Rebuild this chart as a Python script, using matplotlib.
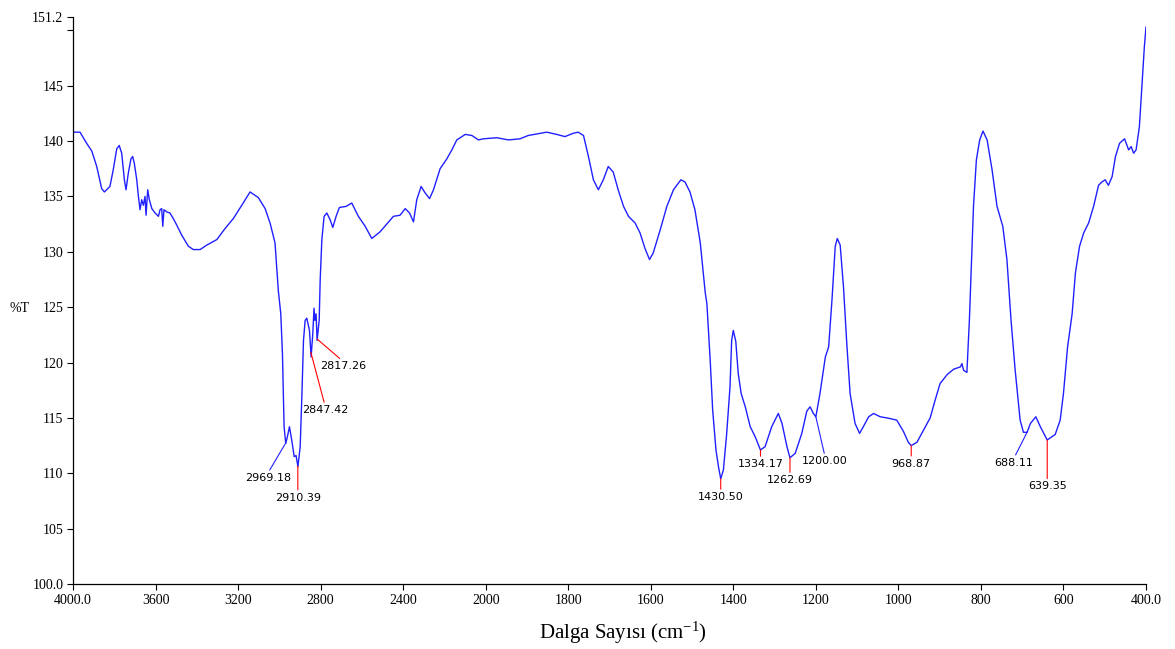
import numpy as np
import matplotlib
matplotlib.use("Agg")
import matplotlib.pyplot as plt

plt.rcParams['mathtext.fontset'] = 'custom'
plt.rcParams['mathtext.rm'] = 'Liberation Serif'
plt.rcParams['mathtext.it'] = 'Liberation Serif:italic'

# spektrum verisi (dalga sayisi, %T)
wavenumber = [
    3999, 3966, 3934, 3909, 3885, 3861, 3848, 3821, 3805, 3788, 3776, 3764, 3751, 3743,
    3732, 3719, 3711, 3703, 3691, 3683, 3675, 3667, 3659, 3651, 3646, 3638, 3630, 3618,
    3602, 3586, 3578, 3570, 3565, 3559, 3546, 3530, 3514, 3497, 3473, 3441, 3417, 3384,
    3352, 3303, 3263, 3223, 3182, 3142, 3102, 3069, 3045, 3021, 3005, 2993, 2985, 2980,
    2977, 2969, 2961, 2951, 2940, 2928, 2919, 2910, 2899, 2891, 2883, 2875, 2867, 2854,
    2846, 2838, 2832, 2828, 2822, 2817, 2807, 2802, 2794, 2783, 2770, 2754, 2741, 2725,
    2709, 2676, 2649, 2617, 2584, 2552, 2512, 2447, 2415, 2390, 2369, 2350, 2334, 2313,
    2293, 2272, 2253, 2221, 2188, 2164, 2140, 2099, 2067, 2035, 2011, 1973, 1945, 1917,
    1897, 1852, 1828, 1808, 1788, 1776, 1763, 1751, 1739, 1727, 1715, 1703, 1691, 1679,
    1666, 1654, 1638, 1626, 1614, 1603, 1594, 1577, 1561, 1545, 1527, 1517, 1505, 1493,
    1480, 1468, 1464, 1456, 1450, 1442, 1436, 1430.5, 1424, 1416, 1408, 1404, 1400, 1394,
    1388, 1381, 1371, 1359, 1347, 1334.2, 1323, 1307, 1291, 1282, 1270, 1262.7, 1250, 1234,
    1222, 1214, 1206, 1200, 1190, 1177, 1169, 1161, 1153, 1148, 1141, 1133, 1125, 1117,
    1105, 1094, 1085, 1072, 1060, 1044, 1028, 1004, 988, 976, 968.9, 955, 939, 923,
    911, 899, 882, 866, 850, 846, 842, 834, 828, 822, 818, 811, 803, 795,
    785, 773, 761, 747, 737, 727, 717, 705, 697, 688.1, 680, 667, 656, 639.35,
    632, 620, 608, 600, 590, 579, 571, 561, 551, 539, 527, 515, 507, 499,
    491, 482, 474, 464, 452, 442, 436, 430, 424, 416, 410, 404, 400,
]
transmittance = [
    140.8, 140.8, 139.8, 139.1, 137.7, 135.7, 135.4, 135.9, 137.4, 139.3, 139.6, 138.9, 136.5, 135.6,
    137.1, 138.4, 138.6, 138.0, 136.5, 135.0, 133.8, 134.7, 134.2, 135.0, 133.3, 135.6, 134.7, 133.9,
    133.5, 133.2, 133.8, 133.9, 132.3, 133.8, 133.6, 133.5, 133.0, 132.4, 131.5, 130.5, 130.2, 130.2,
    130.6, 131.1, 132.1, 133.0, 134.2, 135.4, 134.9, 133.9, 132.6, 130.8, 126.5, 124.4, 120.8, 116.9,
    114.2, 112.7, 113.3, 114.2, 113.0, 111.5, 111.6, 110.6, 112.4, 116.9, 122.0, 123.8, 124.0, 122.9,
    120.5, 122.6, 124.9, 123.8, 124.4, 122.0, 123.8, 127.5, 131.1, 133.2, 133.5, 132.9, 132.2, 133.2,
    134.0, 134.1, 134.4, 133.2, 132.3, 131.2, 131.8, 133.2, 133.3, 133.9, 133.5, 132.7, 134.7, 135.9,
    135.3, 134.8, 135.6, 137.5, 138.4, 139.2, 140.1, 140.6, 140.5, 140.1, 140.2, 140.3, 140.1, 140.2,
    140.5, 140.8, 140.6, 140.4, 140.7, 140.8, 140.5, 138.6, 136.5, 135.6, 136.5, 137.7, 137.2, 135.6,
    134.1, 133.2, 132.6, 131.7, 130.3, 129.3, 129.9, 132.0, 134.1, 135.6, 136.5, 136.3, 135.4, 133.8,
    130.8, 126.3, 125.3, 120.2, 115.7, 112.1, 110.6, 109.5, 110.3, 113.6, 117.8, 122.0, 122.9, 121.9,
    119.0, 117.2, 116.0, 114.2, 113.3, 112.1, 112.4, 114.2, 115.4, 114.5, 112.4, 111.4, 111.8, 113.6,
    115.6, 116.0, 115.4, 115.1, 117.2, 120.5, 121.4, 125.6, 130.5, 131.2, 130.6, 126.8, 121.7, 117.2,
    114.5, 113.6, 114.2, 115.1, 115.4, 115.1, 115.0, 114.8, 113.8, 112.8, 112.5, 112.8, 113.9, 115.0,
    116.6, 118.1, 118.9, 119.4, 119.6, 119.9, 119.3, 119.1, 123.8, 129.9, 134.1, 138.3, 140.1, 140.9,
    140.1, 137.4, 134.1, 132.3, 129.3, 123.8, 119.3, 114.8, 113.7, 113.7, 114.5, 115.1, 114.2, 113.0,
    113.2, 113.5, 114.8, 117.2, 121.4, 124.4, 128.1, 130.5, 131.7, 132.6, 134.1, 136.0, 136.3, 136.5,
    136.0, 136.8, 138.6, 139.8, 140.2, 139.2, 139.5, 138.9, 139.2, 141.3, 144.9, 148.5, 150.3,
]

# isaretlenen tepeler
peaks = [2969.18, 2910.39, 2847.42, 2817.26, 1430.50, 1334.17, 1262.69, 1200.00, 968.87, 688.11, 639.35]
peak_labels = ["2969.18", "2910.39", "2847.42", "2817.26", "1430.50", "1334.17",
               "1262.69", "1200.00", "968.87", "688.11", "639.35"]
# etiket kaymalari (punto) ve cizgi renkleri
label_offsets = [(-12.7, -21.5), (0, -19.0), (10.1, -38), (18.6, -16.0), (0, -9.5), (0, -6.5),
                 (0, -12.5), (6.5, -28.3), (0, -9.5), (-9.3, -18.3), (0, -29.8)]
blue = '#2020ff'
leader_colors = [blue, 'red', 'red', 'red', 'red', 'red', 'red', blue, 'red', blue, 'red']

x_ticks = [4000, 3600, 3200, 2800, 2400, 2000, 1800, 1600, 1400, 1200, 1000, 800, 600, 400]
x_ticklabels = ["4000.0", "3600", "3200", "2800", "2400", "2000", "1800", "1600", "1400",
                "1200", "1000", "800", "600", "400.0"]
y_ticks = [100, 105, 110, 115, 120, 125, 130, 135, 140, 145, 150, 151.2]
y_ticklabels = ["100.0", "105", "110", "115", "120", "125", "130", "135", "140", "145", "", "151.2"]


# 2000 cm-1 ustu yarim olcek
def fwd(w):
    w = np.asarray(w, dtype=float)
    return np.where(w > 2000, 2000 + (w - 2000) / 2, w)


def inv(v):
    v = np.asarray(v, dtype=float)
    return np.where(v > 2000, 2000 + (v - 2000) * 2, v)


fig = plt.figure(figsize=(11.75, 6.49), dpi=100)
ax = fig.add_axes([73 / 1175, 1 - 584 / 649, (1146 - 73) / 1175, (584 - 17) / 649])

ax.plot(wavenumber, transmittance, color=blue, lw=1.0)

ax.set_xscale('function', functions=(fwd, inv))
ax.set_xlim(4000, 400)
ax.set_ylim(100, 151.2)

ax.set_xticks(x_ticks)
ax.set_xticklabels(x_ticklabels, fontfamily='Liberation Serif', fontsize=10)
ax.set_yticks(y_ticks)
ax.set_yticklabels(y_ticklabels, fontfamily='Liberation Serif', fontsize=10)
ax.minorticks_off()
ax.tick_params(direction='out', length=4, width=0.8, pad=3)

for s in ['top', 'right']:
    ax.spines[s].set_visible(False)
for s in ['left', 'bottom']:
    ax.spines[s].set_linewidth(0.9)

wn_r = np.array(wavenumber)[::-1]
tr_r = np.array(transmittance)[::-1]
for p, lab, off, c in zip(peaks, peak_labels, label_offsets, leader_colors):
    t = np.interp(p, wn_r, tr_r)
    ax.annotate(lab, xy=(p, t), xytext=off, textcoords='offset points',
                ha='center', va='top', fontsize=8, fontfamily='DejaVu Sans',
                arrowprops=dict(arrowstyle='-', color=c, lw=0.8, shrinkA=0, shrinkB=0,
                                relpos=(0.5, 1.0)))

fig.text(0.008, 1 - 309 / 649, '%T', ha='left', va='center', fontfamily='Liberation Serif', fontsize=10)
fig.text(0.5306, 1 - 633 / 649, r'Dalga Sayısı (cm$^{\mathrm{-1}}$)', ha='center', va='center',
         fontfamily='Liberation Serif', fontsize=15)

fig.savefig('out.png', dpi=100)
